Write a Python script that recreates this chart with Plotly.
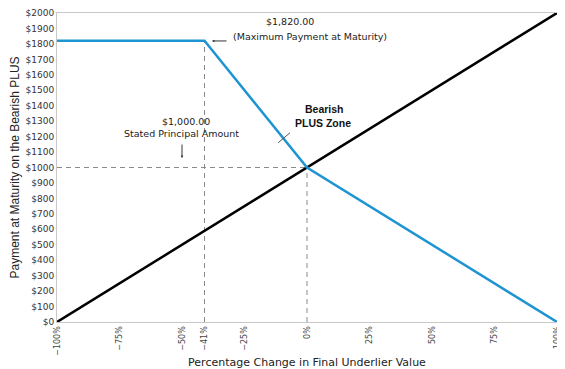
import plotly.graph_objects as go

# Data
x_pct = [-100, -41, 0, 100]
plus_payment = [1820, 1820, 1000, 0]
underlier_x = [-100, 100]
underlier_payment = [0, 2000]
x_tickvals = [-100, -75, -50, -41, -25, 0, 25, 50, 75, 100]
x_ticktext = ["\u2212100%", "\u221275%", "\u221250%", "\u221241%", "\u221225%", "0%", "25%", "50%", "75%", "100%"]
y_tickvals = list(range(0, 2001, 100))
y_ticktext = ["$" + str(v) for v in y_tickvals]
cap_x, cap_y = -41, 1820
principal = 1000

fig = go.Figure()

dash_style = dict(color="#8a8a8a", width=1, dash="5px,4px")
fig.add_trace(go.Scatter(x=[-100, 0], y=[principal, principal], mode="lines", line=dash_style, hoverinfo="skip"))
fig.add_trace(go.Scatter(x=[cap_x, cap_x], y=[0, cap_y], mode="lines", line=dash_style, hoverinfo="skip"))
fig.add_trace(go.Scatter(x=[0, 0], y=[0, principal], mode="lines", line=dash_style, hoverinfo="skip"))

fig.add_trace(go.Scatter(x=underlier_x, y=underlier_payment, mode="lines",
                         line=dict(color="#000000", width=2.5)))
fig.add_trace(go.Scatter(x=x_pct, y=plus_payment, mode="lines",
                         line=dict(color="#1f94d2", width=2.5)))

txt_font = dict(family="DejaVu Sans", size=9.5, color="#222222")
fig.add_annotation(x=-6.8, y=1942, text="$1,820.00", showarrow=False, font=txt_font)
fig.add_annotation(x=-30.6, y=1851, text="(Maximum Payment at Maturity)", showarrow=False, font=txt_font,
                   xanchor="left")
fig.add_annotation(x=-38, y=1819, ax=-31.6, ay=1819, axref="x", ayref="y", xref="x", yref="y",
                   text="", showarrow=True, arrowhead=2, arrowsize=0.5, arrowwidth=1, arrowcolor="#333333")
fig.add_annotation(x=-48.4, y=1301, text="$1,000.00", showarrow=False, font=txt_font)
fig.add_annotation(x=-50.4, y=1217, text="Stated Principal Amount", showarrow=False, font=txt_font)
fig.add_annotation(x=-50, y=1061, ax=-50, ay=1158, axref="x", ayref="y",
                   text="", showarrow=True, arrowhead=2, arrowsize=0.5, arrowwidth=1, arrowcolor="#333333")
bold_font = dict(family="Liberation Sans", size=10.5, color="#111111", weight="bold")
fig.add_annotation(x=6.8, y=1378, text="Bearish", showarrow=False, font=bold_font)
fig.add_annotation(x=6.4, y=1288, text="PLUS Zone", showarrow=False, font=bold_font)
fig.add_annotation(x=-6.8, y=1225, ax=-12.1, ay=1152, axref="x", ayref="y",
                   text="", showarrow=True, arrowhead=0, arrowwidth=1, arrowcolor="#555555")

# page body has an 8px margin, so the figure is sized/offset to compensate
fig.update_layout(
    width=565, height=361,
    margin=dict(l=49, r=16, t=5, b=47),
    plot_bgcolor="white", paper_bgcolor="white",
    showlegend=False,
    font=dict(family="DejaVu Sans", color="#222222"),
)
fig.update_xaxes(range=[-100, 100], tickvals=x_tickvals, ticktext=x_ticktext, tickangle=-90,
                 tickfont=dict(size=8, color="#444444"), showgrid=False, zeroline=False,
                 showline=True, linecolor="#c8c8c8", linewidth=1, mirror=True, automargin=False,
                 ticks="", ticklen=0, ticklabeloverflow="allow",
                 title=dict(text="Percentage Change in Final Underlier Value",
                            font=dict(size=11, color="#222222"), standoff=3))
fig.update_yaxes(range=[0, 2000], tickvals=y_tickvals, ticktext=y_ticktext,
                 tickfont=dict(size=9, color="#333333"), showgrid=False, zeroline=False,
                 showline=True, linecolor="#c8c8c8", linewidth=1, mirror=True, automargin=False,
                 ticks="", ticklen=0,
                 title=dict(text="Payment at Maturity on the Bearish PLUS",
                            font=dict(family="Liberation Sans", size=12, color="#222222"), standoff=6))

fig.write_html("out.html")
